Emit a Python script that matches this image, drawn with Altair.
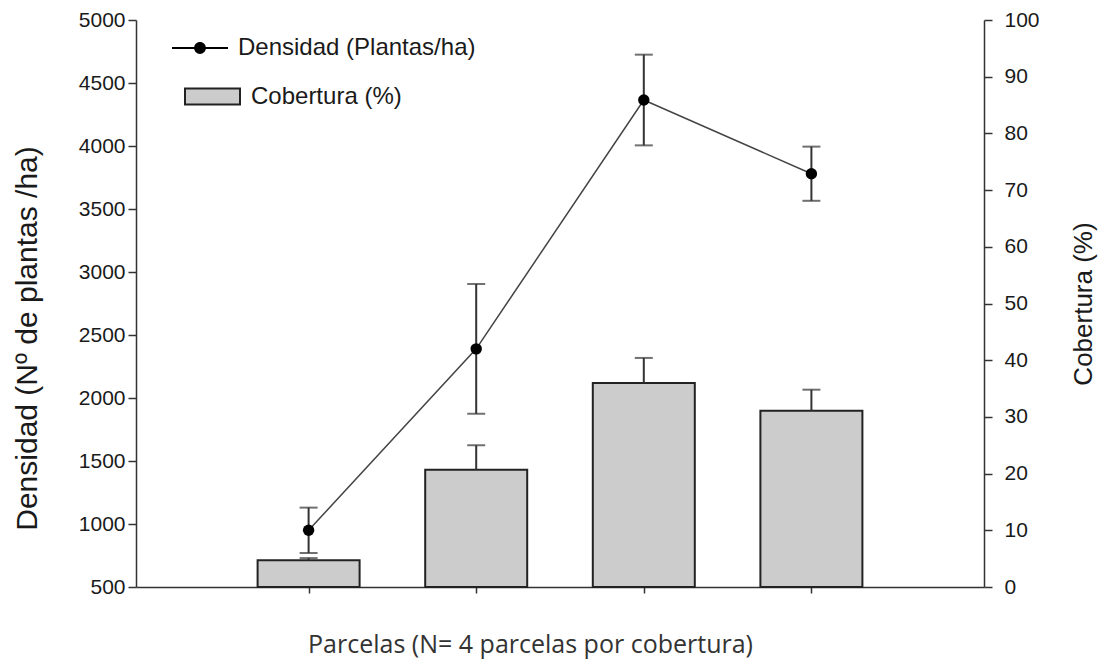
import altair as alt
import pandas as pd

# ---- data ----
parcela = [1, 2, 3, 4]
densidad = [950, 2390, 4365, 3780]
densidad_err = [180, 515, 360, 215]
cobertura = [4.7, 20.7, 36.0, 31.1]
cobertura_err = [0.4, 4.3, 4.4, 3.7]
dens_ticks = list(range(500, 5001, 500))
cob_ticks = list(range(0, 101, 10))
serie_dens = "Densidad (Plantas/ha)"
serie_cob = "Cobertura (%)"

df = pd.DataFrame({
    "parcela": parcela,
    "densidad": densidad,
    "densidad_err": densidad_err,
    "cobertura": cobertura,
    "cobertura_err": cobertura_err,
    "s_dens": [serie_dens] * len(parcela),
    "s_cob": [serie_cob] * len(parcela),
})

AX = "#333333"
TXT = "#1a1a1a"
LBL_FONT = "Liberation Sans"

base = alt.Chart(df).transform_calculate(
    d_lo="datum.densidad - datum.densidad_err",
    d_hi="datum.densidad + datum.densidad_err",
    c_hi="datum.cobertura + datum.cobertura_err",
)

x_enc = alt.X(
    "parcela:Q",
    scale=alt.Scale(domain=[0, 5], nice=False, zero=False),
    axis=alt.Axis(
        values=[1, 2, 3, 4], labels=False, grid=False, tickSize=6,
        title="Parcelas (N= 4 parcelas por cobertura)",
        titleFont="Open Sans", titleFontSize=25, titleFontWeight="normal",
        titleColor="#333333", titleX=394, titleY=57, titleBaseline="middle",
    ),
)

dens_scale = alt.Scale(domain=[500, 5000], nice=False, zero=False)
cob_scale = alt.Scale(domain=[0, 100], nice=False, zero=True)

dens_axis = alt.Axis(
    orient="left", values=dens_ticks, format="d", grid=False, tickSize=8,
    labelPadding=3, labelFont=LBL_FONT, labelFontSize=21, labelColor=TXT,
    title="Densidad (Nº de plantas /ha)", titlePadding=36, titleY=318,
    titleFont=LBL_FONT, titleFontSize=30, titleFontWeight="normal", titleColor=TXT,
)
cob_axis = alt.Axis(
    orient="right", values=cob_ticks, format="d", grid=False, tickSize=8,
    labelPadding=12, labelFont=LBL_FONT, labelFontSize=21, labelColor=TXT,
    title="Cobertura (%)", titlePadding=57, titleAngle=270,
    titleFont=LBL_FONT, titleFontSize=26, titleFontWeight="normal", titleColor=TXT,
)


def y_dens(field):
    return alt.Y(field, scale=dens_scale, axis=dens_axis)


def y_cob(field):
    return alt.Y(field, scale=cob_scale, axis=cob_axis)


line_sym = ("M-1,-0.035L1,-0.035L1,0.035L-1,0.035Z "
            "M0.21,0A0.21,0.21 0 1,1 -0.21,0A0.21,0.21 0 1,1 0.21,0Z")
rect_sym = "M-1,-0.29L1,-0.29L1,0.29L-1,0.29Z"

bars = base.mark_bar(size=102, stroke="#222222", strokeWidth=2).encode(
    x=x_enc,
    y=y_cob("cobertura:Q"),
    fill=alt.Fill(
        "s_cob:N",
        scale=alt.Scale(range=["#cccccc"]),
        legend=alt.Legend(
            orient="none", legendX=48, legendY=48, title=None,
            symbolType=rect_sym, symbolSize=3025, symbolStrokeColor="#222222",
            symbolStrokeWidth=2, labelFont=LBL_FONT, labelFontSize=24,
            labelColor=TXT, labelOffset=10, padding=0, labelLimit=500,
        ),
    ),
)
bar_err = base.mark_rule(color=AX, strokeWidth=2).encode(
    x=x_enc,
    y=y_cob("cobertura:Q"),
    y2="c_hi:Q",
)
bar_cap = base.mark_tick(color=AX, size=18, thickness=2, orient="horizontal").encode(
    x=x_enc,
    y=y_cob("c_hi:Q"),
)

line = base.mark_line(color="#444444", strokeWidth=1.5).encode(
    x=x_enc,
    y=y_dens("densidad:Q"),
)
d_err = base.mark_rule(color=AX, strokeWidth=2).encode(
    x=x_enc,
    y=y_dens("d_lo:Q"),
    y2="d_hi:Q",
)
d_cap_lo = base.mark_tick(color=AX, size=18, thickness=2, orient="horizontal").encode(
    x=x_enc,
    y=y_dens("d_lo:Q"),
)
d_cap_hi = base.mark_tick(color=AX, size=18, thickness=2, orient="horizontal").encode(
    x=x_enc,
    y=y_dens("d_hi:Q"),
)
points = base.mark_circle(size=130, opacity=1).encode(
    x=x_enc,
    y=y_dens("densidad:Q"),
    color=alt.Color(
        "s_dens:N",
        scale=alt.Scale(range=["#000000"]),
        legend=alt.Legend(
            orient="none", legendX=36, legendY=0, title=None,
            symbolType=line_sym, symbolSize=3136, symbolStrokeWidth=0,
            labelFont=LBL_FONT, labelFontSize=24, labelColor=TXT,
            labelOffset=10, padding=0, labelLimit=500,
        ),
    ),
)

cob_layer = alt.layer(bars, bar_err, bar_cap)
dens_layer = alt.layer(line, d_err, d_cap_lo, d_cap_hi, points)

chart = alt.layer(cob_layer, dens_layer).resolve_scale(
    y="independent"
).properties(
    width=848, height=567,
    background="white",
    autosize=alt.AutoSizeParams(type="none"),
    padding={"left": 128, "top": 12, "right": 115, "bottom": 72},
).configure_view(
    strokeWidth=0
).configure_axis(
    domainColor=AX, domainWidth=1.5, tickColor=AX, tickWidth=1.5,
)

chart.save("out.html", embed_options={"renderer": "svg", "actions": False})
